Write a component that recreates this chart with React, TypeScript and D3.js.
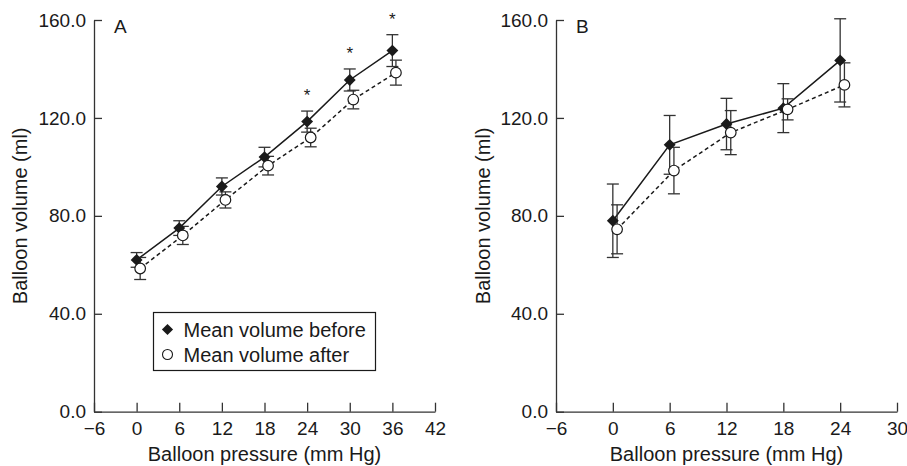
import React, { useEffect, useRef } from 'react';
import * as d3 from 'd3';

// panel A
const pressureA = [0, 6, 12, 18, 24, 30, 36];
const beforeA = [62, 75, 92, 104, 118.5, 135.5, 147.5];
const beforeErrA = [3, 3, 3.5, 4, 4.3, 4.5, 6.5];
const afterA = [58.5, 72, 86.5, 100.5, 112, 127.5, 138.5];
const afterErrA = [4.5, 3.7, 3.3, 3.8, 3.8, 3.8, 5.1];
const starsA = [24, 30, 36];

// panel B
const pressureB = [0, 6, 12, 18, 24];
const beforeB = [78, 109, 117.5, 124, 143.5];
const beforeErrB = [15, 12, 10.5, 10, 17];
const afterB = [74.5, 98.5, 114, 123.5, 133.5];
const afterErrB = [10, 9.5, 9, 4.3, 9];

const ticksA = [-6, 0, 6, 12, 18, 24, 30, 36, 42];
const ticksB = [-6, 0, 6, 12, 18, 24, 30];
const yTicks = [0, 40, 80, 120, 160];

const FONT = '"Liberation Sans", Arial, sans-serif';
const INK = '#1a1a1a';

const App = () => {
  const svgRef = useRef<SVGSVGElement>(null);

  useEffect(() => {
    document.body.style.margin = '0';
    const svg = d3.select(svgRef.current);
    svg.selectAll('*').remove();

    const y = d3.scaleLinear().domain([0, 160]).range([411.7, 20]);

    const drawPanel = (opts: any) => {
      const { pressure, before, beforeErr, after, afterErr, xDomain, xRange, ticks, label, stars, offset, yLabelX } = opts;
      const x = d3.scaleLinear().domain(xDomain).range(xRange);
      const g = svg.append('g');

      // axes
      const xAxis = g.append('g')
        .attr('transform', `translate(0,${y(0)})`)
        .call(d3.axisBottom(x).tickValues(ticks).tickSizeInner(-9).tickSizeOuter(0).tickPadding(10));
      const yAxis = g.append('g')
        .attr('transform', `translate(${xRange[0]},0)`)
        .call(d3.axisLeft(y).tickValues(yTicks).tickFormat(d3.format('.1f')).tickSizeInner(-8).tickSizeOuter(0).tickPadding(8));
      [xAxis, yAxis].forEach(a => {
        a.attr('font-family', FONT).attr('font-size', 19);
        a.selectAll('path, line').attr('stroke', '#333').attr('stroke-width', 1.3);
        a.selectAll('text').attr('fill', INK);
      });

      // axis titles
      g.append('text')
        .attr('x', (xRange[0] + xRange[1]) / 2)
        .attr('y', 461)
        .attr('text-anchor', 'middle')
        .attr('font-family', FONT).attr('font-size', 20).attr('fill', INK)
        .text('Balloon pressure (mm Hg)');
      g.append('text')
        .attr('transform', `translate(${yLabelX},${(y(0) + y(160)) / 2}) rotate(-90)`)
        .attr('text-anchor', 'middle')
        .attr('font-family', FONT).attr('font-size', 20).attr('fill', INK)
        .text('Balloon volume (ml)');
      g.append('text')
        .attr('x', x(xDomain[0]) + 20)
        .attr('y', 33)
        .attr('font-family', FONT).attr('font-size', 19).attr('fill', INK)
        .text(label);

      const pts = (vals: number[], errs: number[], dx: number) =>
        pressure.map((p: number, i: number) => ({ x: x(p + dx), v: vals[i], e: errs[i] }));
      const bPts = pts(before, beforeErr, 0);
      const aPts = pts(after, afterErr, offset);

      const line = d3.line<any>().x(d => d.x).y(d => y(d.v));
      g.append('path').datum(bPts).attr('d', line)
        .attr('fill', 'none').attr('stroke', INK).attr('stroke-width', 1.5);
      g.append('path').datum(aPts).attr('d', line)
        .attr('fill', 'none').attr('stroke', INK).attr('stroke-width', 1.5).attr('stroke-dasharray', '4,3');

      // error bars
      [bPts, aPts].forEach(set => {
        const eb = g.append('g').attr('stroke', '#333').attr('stroke-width', 1.3);
        set.forEach((d: any) => {
          eb.append('line').attr('x1', d.x).attr('x2', d.x).attr('y1', y(d.v - d.e)).attr('y2', y(d.v + d.e));
          [d.v - d.e, d.v + d.e].forEach(c => {
            eb.append('line').attr('x1', d.x - 6).attr('x2', d.x + 6).attr('y1', y(c)).attr('y2', y(c));
          });
        });
      });

      // markers
      g.selectAll('.dia').data(bPts).enter().append('path')
        .attr('d', d3.symbol(d3.symbolDiamond2, 90)())
        .attr('transform', (d: any) => `translate(${d.x},${y(d.v)})`)
        .attr('fill', INK);
      g.selectAll('.circ').data(aPts).enter().append('circle')
        .attr('cx', (d: any) => d.x).attr('cy', (d: any) => y(d.v)).attr('r', 5.3)
        .attr('fill', 'white').attr('stroke', INK).attr('stroke-width', 1.2);

      // significance
      (stars || []).forEach((s: number) => {
        const i = pressure.indexOf(s);
        g.append('text')
          .attr('x', x(s)).attr('y', y(before[i] + beforeErr[i]) - 10)
          .attr('text-anchor', 'middle')
          .attr('font-family', FONT).attr('font-size', 17).attr('fill', INK)
          .text('*');
      });
      return x;
    };

    drawPanel({
      pressure: pressureA, before: beforeA, beforeErr: beforeErrA, after: afterA, afterErr: afterErrA,
      xDomain: [-6, 42], xRange: [94, 435], ticks: ticksA, label: 'A', stars: starsA, offset: 0.5, yLabelX: 27,
    });
    drawPanel({
      pressure: pressureB, before: beforeB, beforeErr: beforeErrB, after: afterB, afterErr: afterErrB,
      xDomain: [-6, 30], xRange: [556, 897], ticks: ticksB, label: 'B', stars: [], offset: 0.45, yLabelX: 490,
    });

    // legend (panel A)
    const lg = svg.append('g').attr('transform', 'translate(153.5,312.5)');
    lg.append('rect').attr('width', 222).attr('height', 58)
      .attr('fill', 'white').attr('stroke', INK).attr('stroke-width', 1.2);
    lg.append('path').attr('d', d3.symbol(d3.symbolDiamond2, 80)())
      .attr('transform', 'translate(14,17)').attr('fill', INK);
    lg.append('circle').attr('cx', 14).attr('cy', 42).attr('r', 5)
      .attr('fill', 'white').attr('stroke', INK).attr('stroke-width', 1.1);
    [['Mean volume before', 24], ['Mean volume after', 49]].forEach(([t, yy]) => {
      lg.append('text').attr('x', 30).attr('y', yy as number)
        .attr('font-family', FONT).attr('font-size', 20).attr('fill', INK)
        .text(t as string);
    });
  }, []);

  return <svg ref={svgRef} width={907} height={466} style={{ display: 'block', background: 'white' }}></svg>;
};

export default App;
